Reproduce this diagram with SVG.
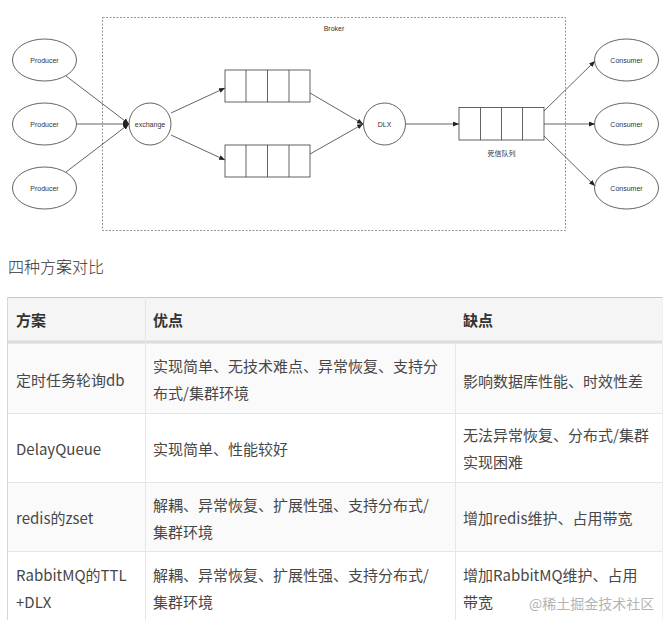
<svg xmlns="http://www.w3.org/2000/svg" width="672" height="630" viewBox="0 0 672 630">
<style>
.shp{fill:#fff;stroke:#3c3c3c;stroke-width:0.8}
.ln{fill:none;stroke:#3c3c3c;stroke-width:0.8}
.lbl{font-family:"Liberation Sans",Arial,sans-serif;font-size:7px;fill:#333;text-anchor:middle}
.cjk7{font-family:"Noto Sans CJK SC",sans-serif;font-size:7px;fill:#333;text-anchor:middle}
.t{font-family:"Noto Sans CJK SC",sans-serif;font-size:15px;fill:#474747}
.th{font-family:"Noto Sans CJK SC",sans-serif;font-size:15px;fill:#333;font-weight:bold}
.gl{stroke:#e6e6e6;stroke-width:1}
</style>
<defs>
<marker id="ah" markerUnits="userSpaceOnUse" markerWidth="6" markerHeight="5" refX="6" refY="2.5" orient="auto">
<path d="M0,0 L6,2.5 L0,5 z" fill="#222"/>
</marker>
</defs>
<rect width="672" height="630" fill="#fff"/>

<g id="broker">
<rect x="102.5" y="17.5" width="463" height="213" fill="none" stroke="#666" stroke-width="0.7" stroke-dasharray="2,1.5"/>
<text class="lbl" x="334" y="30.5">Broker</text>
</g>

<g id="connectors">
<line class="ln" x1="66" y1="76" x2="129" y2="124" marker-end="url(#ah)"/>
<line class="ln" x1="77" y1="124" x2="129" y2="124" marker-end="url(#ah)"/>
<line class="ln" x1="66" y1="172" x2="129" y2="124" marker-end="url(#ah)"/>
<line class="ln" x1="171" y1="113" x2="225" y2="88" marker-end="url(#ah)"/>
<line class="ln" x1="171" y1="135" x2="225" y2="160" marker-end="url(#ah)"/>
<line class="ln" x1="310" y1="93" x2="363" y2="124" marker-end="url(#ah)"/>
<line class="ln" x1="310" y1="154" x2="363" y2="124" marker-end="url(#ah)"/>
<line class="ln" x1="406" y1="124" x2="459" y2="124" marker-end="url(#ah)"/>
<line class="ln" x1="544" y1="111" x2="595" y2="61" marker-end="url(#ah)"/>
<line class="ln" x1="544" y1="124" x2="595" y2="124" marker-end="url(#ah)"/>
<line class="ln" x1="544" y1="136" x2="595" y2="186" marker-end="url(#ah)"/>
</g>

<g id="producer1"><ellipse class="shp" cx="44.5" cy="60" rx="32" ry="21"/><text class="lbl" x="44.5" y="62.5">Producer</text></g>
<g id="producer2"><ellipse class="shp" cx="44.5" cy="124" rx="32" ry="21"/><text class="lbl" x="44.5" y="126.5">Producer</text></g>
<g id="producer3"><ellipse class="shp" cx="44.5" cy="188" rx="32" ry="21"/><text class="lbl" x="44.5" y="190.5">Producer</text></g>

<g id="exchange"><circle class="shp" cx="150" cy="124" r="21"/><text class="lbl" x="150" y="126.5">exchange</text></g>

<g id="queue1">
<rect class="shp" x="225" y="70" width="85" height="32"/>
<line class="ln" x1="246" y1="70" x2="246" y2="102"/>
<line class="ln" x1="267.5" y1="70" x2="267.5" y2="102"/>
<line class="ln" x1="289" y1="70" x2="289" y2="102"/>
</g>
<g id="queue2">
<rect class="shp" x="225" y="145" width="85" height="32"/>
<line class="ln" x1="246" y1="145" x2="246" y2="177"/>
<line class="ln" x1="267.5" y1="145" x2="267.5" y2="177"/>
<line class="ln" x1="289" y1="145" x2="289" y2="177"/>
</g>

<g id="dlx"><circle class="shp" cx="384.5" cy="124" r="21"/><text class="lbl" x="384.5" y="126.5">DLX</text></g>

<g id="deadqueue">
<rect class="shp" x="459" y="107.5" width="85" height="32.5"/>
<line class="ln" x1="480.5" y1="107.5" x2="480.5" y2="140"/>
<line class="ln" x1="501.5" y1="107.5" x2="501.5" y2="140"/>
<line class="ln" x1="522.5" y1="107.5" x2="522.5" y2="140"/>
<text class="cjk7" x="501.5" y="155.5">死信队列</text>
</g>

<g id="consumer1"><ellipse class="shp" cx="626.5" cy="60" rx="32" ry="21"/><text class="lbl" x="626.5" y="62.5">Consumer</text></g>
<g id="consumer2"><ellipse class="shp" cx="626.5" cy="124" rx="32" ry="21"/><text class="lbl" x="626.5" y="126.5">Consumer</text></g>
<g id="consumer3"><ellipse class="shp" cx="626.5" cy="188" rx="32" ry="21"/><text class="lbl" x="626.5" y="190.5">Consumer</text></g>

<text x="8" y="273" font-family="'Noto Sans CJK SC',sans-serif" font-size="16" font-weight="300" fill="#333">四种方案对比</text>

<g id="table">
<rect x="7" y="297" width="656" height="45" fill="#f5f5f5"/>
<rect x="7" y="342" width="656" height="71" fill="#fafafa"/>
<rect x="7" y="413" width="656" height="69" fill="#fff"/>
<rect x="7" y="482" width="656" height="69" fill="#fafafa"/>
<rect x="7" y="551" width="656" height="69" fill="#fff"/>
<line x1="7" y1="297.5" x2="663" y2="297.5" stroke="#c8c8c8" stroke-width="1"/>
<line x1="7" y1="342" x2="663" y2="342" stroke="#dcdcdc" stroke-width="3"/>
<line class="gl" x1="7" y1="413.5" x2="663" y2="413.5"/>
<line class="gl" x1="7" y1="482.5" x2="663" y2="482.5"/>
<line class="gl" x1="7" y1="551.5" x2="663" y2="551.5"/>
<line x1="7.5" y1="297" x2="7.5" y2="620" stroke="#d8d8d8" stroke-width="1"/>
<line class="gl" x1="145.5" y1="297" x2="145.5" y2="620"/>
<line class="gl" x1="455.5" y1="343" x2="455.5" y2="620"/>
<line x1="662.5" y1="297" x2="662.5" y2="620" stroke="#eeeeee" stroke-width="1"/>

<text class="th" x="16" y="325.5">方案</text>
<text class="th" x="153" y="325.5">优点</text>
<text class="th" x="463" y="325.5">缺点</text>

<text class="t" x="16" y="385.5">定时任务轮询db</text>
<text class="t" x="153" y="371.5">实现简单、无技术难点、异常恢复、支持分</text>
<text class="t" x="153" y="398.5">布式/集群环境</text>
<text class="t" x="463" y="386.5">影响数据库性能、时效性差</text>

<text class="t" x="16" y="454.5">DelayQueue</text>
<text class="t" x="153" y="454.5">实现简单、性能较好</text>
<text class="t" x="463" y="440.5">无法异常恢复、分布式/集群</text>
<text class="t" x="463" y="467.5">实现困难</text>

<text class="t" x="16" y="523.5">redis的zset</text>
<text class="t" x="153" y="510.5">解耦、异常恢复、扩展性强、支持分布式/</text>
<text class="t" x="153" y="537.5">集群环境</text>
<text class="t" x="463" y="523.5">增加redis维护、占用带宽</text>

<text class="t" x="16" y="580.5">RabbitMQ的TTL</text>
<text class="t" x="16" y="607.5">+DLX</text>
<text class="t" x="153" y="580.5">解耦、异常恢复、扩展性强、支持分布式/</text>
<text class="t" x="153" y="607.5">集群环境</text>
<text class="t" x="463" y="580.5">增加RabbitMQ维护、占用</text>
<text class="t" x="463" y="607.5">带宽</text>
<text x="529" y="609" font-family="'Noto Sans CJK SC',sans-serif" font-size="14" fill="#b4b4b4">@稀土掘金技术社区</text>
</g>
</svg>
